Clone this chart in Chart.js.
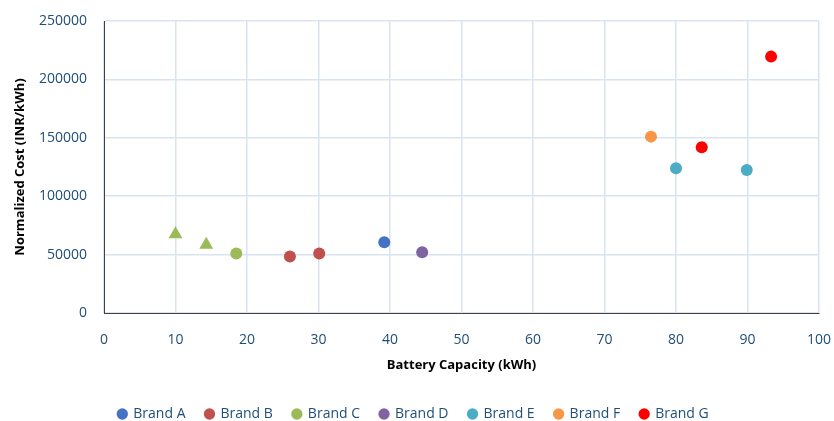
<!DOCTYPE html>
<html>
<head>
<meta charset="utf-8">
<script src="https://cdn.jsdelivr.net/npm/chart.js@4.4.0/dist/chart.umd.min.js"></script>
<style>
  html, body { margin: 0; padding: 0; background: #fff; }
  #wrap { width: 834px; height: 421px; }
</style>
</head>
<body>
<div id="wrap"><canvas id="chart" width="834" height="421"></canvas></div>
<script>
// Battery capacity (kWh) and normalized cost (INR/kWh) per brand
var brandA_x = [39.2];
var brandA_y = [60500];
var brandB_x = [26.0, 30.1];
var brandB_y = [48300, 51000];
var brandC_x = [10.0, 14.3, 18.5];
var brandC_y = [67500, 58500, 51000];
var brandC_shape = ['triangle', 'triangle', 'circle'];
var brandC_size = [8, 8, 6];
var brandD_x = [44.5];
var brandD_y = [52000];
var brandE_x = [80.0, 89.9];
var brandE_y = [124000, 122500];
var brandF_x = [76.5];
var brandF_y = [151000];
var brandG_x = [83.6, 93.3];
var brandG_y = [142000, 219500];

var xTicks = [0, 10, 20, 30, 40, 50, 60, 70, 80, 90, 100];
var yTicks = [0, 50000, 100000, 150000, 200000, 250000];

function pts(xs, ys) {
    var out = [];
    for (let i = 0; i < xs.length; i++) {
        out.push({x: xs[i], y: ys[i]});
    }
    return out;
}

function series(label, xs, ys, color, shapes, sizes) {
    return {
        label: label,
        data: pts(xs, ys),
        backgroundColor: color,
        borderColor: color,
        pointStyle: shapes || 'circle',
        pointRadius: sizes || 6,
        pointHoverRadius: sizes || 6,
        borderWidth: 0
    };
}

var fontFam = "'Open Sans', 'Liberation Sans', sans-serif";
var tickColor = '#1F4E79';

var ctx = document.getElementById('chart').getContext('2d');
var myChart = new Chart(ctx, {
    type: 'scatter',
    data: {
        datasets: [
            series('Brand A', brandA_x, brandA_y, '#4472C4'),
            series('Brand B', brandB_x, brandB_y, '#C0504D'),
            series('Brand C', brandC_x, brandC_y, '#9BBB59', brandC_shape, brandC_size),
            series('Brand D', brandD_x, brandD_y, '#8064A2'),
            series('Brand E', brandE_x, brandE_y, '#4BACC6'),
            series('Brand F', brandF_x, brandF_y, '#F79646'),
            series('Brand G', brandG_x, brandG_y, '#FF0000')
        ]
    },
    options: {
        responsive: false,
        animation: false,
        layout: { padding: { top: 21, right: 15, left: 8, bottom: -10 } },
        plugins: {
            tooltip: { enabled: false },
            legend: {
                position: 'bottom',
                labels: {
                    usePointStyle: true,
                    pointStyle: 'circle',
                    boxWidth: 8,
                    boxHeight: 8,
                    padding: 20,
                    color: tickColor,
                    font: { family: fontFam, size: 14 }
                }
            }
        },
        scales: {
            x: {
                type: 'linear',
                min: 0,
                max: 100,
                afterBuildTicks: function (axis) {
                    axis.ticks = xTicks.map(function (v) { return {value: v}; });
                },
                afterFit: function (axis) {
                    axis.height = 74;
                    axis.paddingLeft = 0;
                    axis.paddingRight = 0;
                },
                grid: { color: '#D9E3F1', lineWidth: 1.5, drawTicks: false },
                border: { color: '#404040', width: 1 },
                ticks: {
                    color: tickColor,
                    padding: 19,
                    maxRotation: 0,
                    font: { family: fontFam, size: 14 }
                },
                title: {
                    display: true,
                    text: 'Battery Capacity (kWh)',
                    color: '#000',
                    padding: { top: 6, bottom: 14 },
                    font: { family: fontFam, size: 13, weight: 'bold' }
                }
            },
            y: {
                min: 0,
                max: 250000,
                afterBuildTicks: function (axis) {
                    axis.ticks = yTicks.map(function (v) { return {value: v}; });
                },
                afterFit: function (axis) {
                    axis.width = 96;
                    axis.paddingTop = 0;
                    axis.paddingBottom = 0;
                },
                grid: { color: '#D9E3F1', lineWidth: 1.5, drawTicks: false },
                border: { color: '#404040', width: 1 },
                ticks: {
                    color: tickColor,
                    padding: 17,
                    font: { family: fontFam, size: 14 },
                    callback: function (v) { return v; }
                },
                title: {
                    display: true,
                    text: 'Normalized Cost (INR/kWh)',
                    color: '#000',
                    padding: { bottom: 2 },
                    font: { family: fontFam, size: 13, weight: 'bold' }
                }
            }
        }
    }
});
</script>
</body>
</html>
